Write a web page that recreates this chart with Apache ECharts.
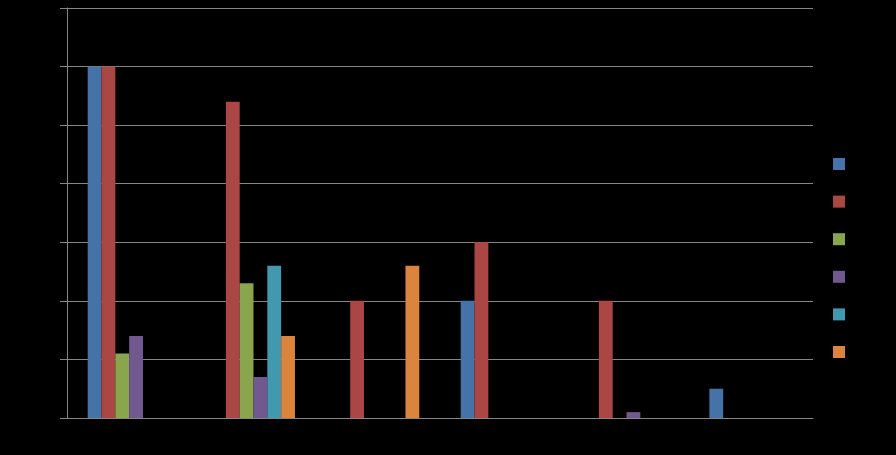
<!DOCTYPE html>
<html><head><meta charset="utf-8">
<script src="https://cdn.jsdelivr.net/npm/echarts@6/dist/echarts.min.js"></script>
<style>html,body{margin:0;padding:0;background:#000;}#c{width:896px;height:455px;}</style>
</head><body><div id="c"></div>
<script>
const categories = ['Category 1','Category 2','Category 3','Category 4','Category 5','Category 6'];
const seriesNames = ['Series 1','Series 2','Series 3','Series 4','Series 5','Series 6'];
const s1 = [60, null, null, 20, null, 5];
const s2 = [60, 54, 20, 30, 20, null];
const s3 = [11, 23, null, null, null, null];
const s4 = [14, 7, null, null, 1, null];
const s5 = [null, 26, null, null, null, null];
const s6 = [null, 14, 26, null, null, null];
const colors = ['#4572A7','#AA4643','#89A54E','#71588F','#4198AF','#DB843D'];
const allData = [s1,s2,s3,s4,s5,s6];

const chart = echarts.init(document.getElementById('c'));
chart.setOption({
  backgroundColor: '#000',
  animation: false,
  color: colors,
  grid: {left: 67, right: 83, top: 8, bottom: 37, containLabel: false},
  legend: {
    orient: 'vertical', left: 828, top: 153,
    itemWidth: 12, itemHeight: 12, itemGap: 25.6,
    icon: 'rect',
    textStyle: {color: '#000', fontSize: 12, fontFamily: 'Liberation Sans'},
    data: seriesNames
  },
  xAxis: {
    type: 'category', data: categories,
    axisLine: {lineStyle: {color: '#868686'}},
    axisTick: {show: false},
    axisLabel: {color: '#000', fontFamily: 'Liberation Sans'}
  },
  yAxis: {
    type: 'value', min: 0, max: 70, interval: 10,
    axisLine: {show: true, lineStyle: {color: '#868686'}},
    axisTick: {show: true, inside: false, length: 7, lineStyle: {color: '#868686'}},
    splitLine: {lineStyle: {color: '#868686'}},
    axisLabel: {color: '#000', fontFamily: 'Liberation Sans'}
  },
  series: allData.map((d, i) => ({
    name: seriesNames[i], type: 'bar', data: d,
    barGap: '0%', barCategoryGap: '33.3%'
  }))
});
</script></body></html>
